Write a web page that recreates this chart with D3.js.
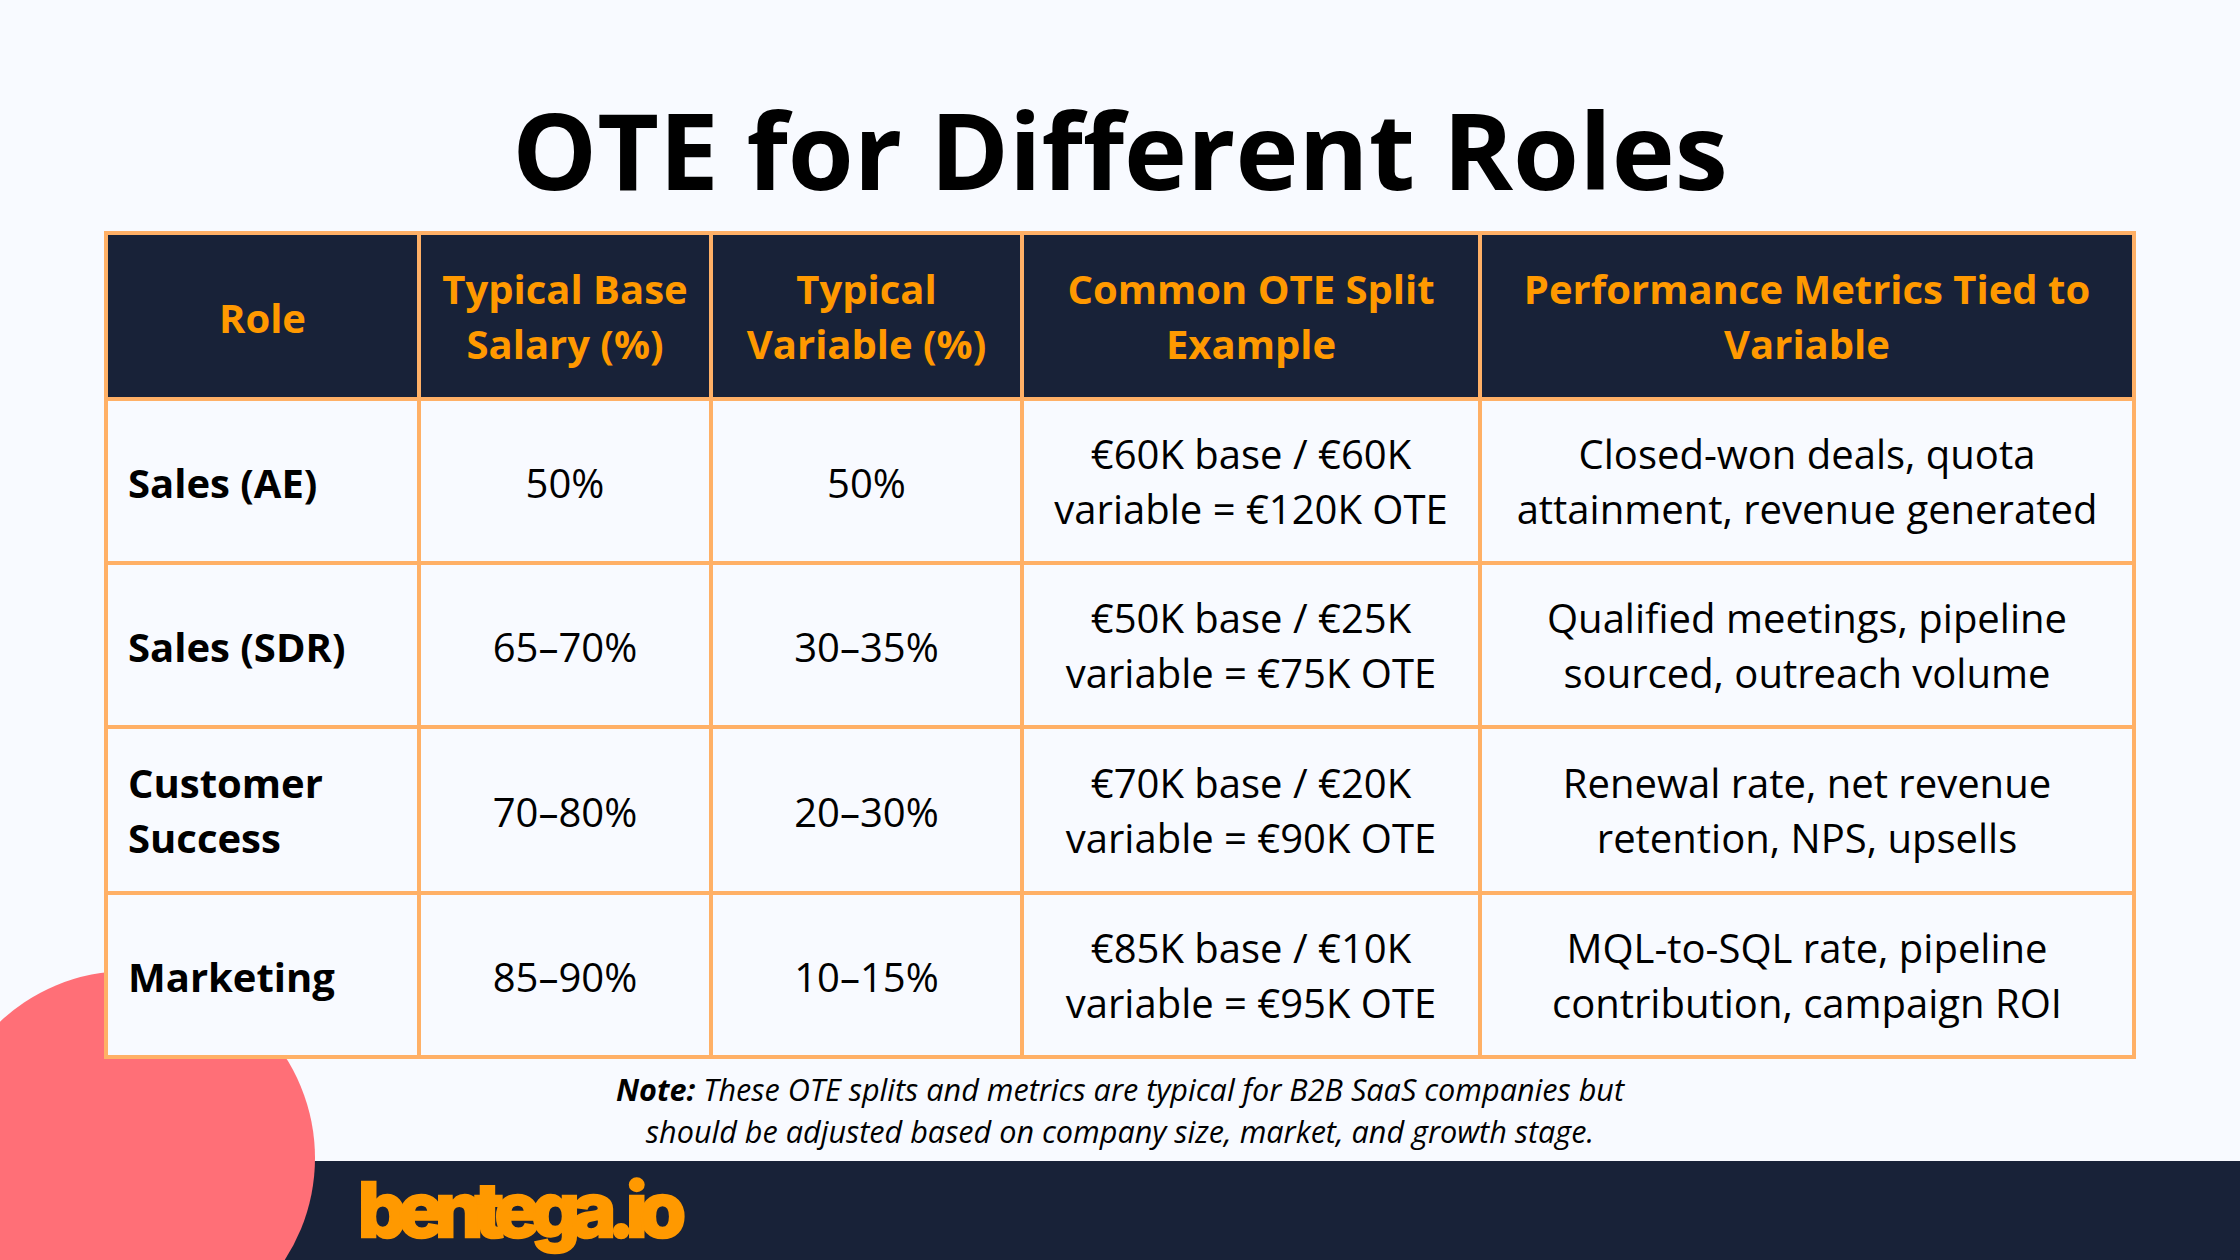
<!DOCTYPE html>
<html>
<head>
<meta charset="utf-8">
<script src="https://cdn.jsdelivr.net/npm/d3@7"></script>
<style>
  html, body { margin: 0; padding: 0; background: #f8faff; }
  svg { display: block; }
  text { font-family: "Open Sans", sans-serif; }
</style>
</head>
<body>
<svg id="chart" width="2240" height="1260"></svg>
<script>
const titleText = "OTE for Different Roles";
const columns = ["Role", "Typical Base\nSalary (%)", "Typical\nVariable (%)", "Common OTE Split\nExample", "Performance Metrics Tied to\nVariable"];
const roles = ["Sales (AE)", "Sales (SDR)", "Customer\nSuccess", "Marketing"];
const baseSalary = ["50%", "65–70%", "70–80%", "85–90%"];
const variablePay = ["50%", "30–35%", "20–30%", "10–15%"];
const splitExample = [
  "€60K base / €60K\nvariable = €120K OTE",
  "€50K base / €25K\nvariable = €75K OTE",
  "€70K base / €20K\nvariable = €90K OTE",
  "€85K base / €10K\nvariable = €95K OTE"
];
const metrics = [
  "Closed-won deals, quota\nattainment, revenue generated",
  "Qualified meetings, pipeline\nsourced, outreach volume",
  "Renewal rate, net revenue\nretention, NPS, upsells",
  "MQL-to-SQL rate, pipeline\ncontribution, campaign ROI"
];
const noteLead = "Note:";
const noteLines = ["These OTE splits and metrics are typical for B2B SaaS companies but", "should be adjusted based on company size, market, and growth stage."];
const logoText = "bentega.io";

var navy = "#182238", orange = "#ff9900", border = "#ffb066", coral = "#ff6f77", bg = "#f8faff";

var svg = d3.select("#chart");

// grid lines, in page pixels
var colEdges = [106, 419, 711, 1022, 1480, 2134];
var rowEdges = [233, 399, 563, 727, 893, 1057];
var rowKeys = ["header"].concat(roles);

var x = d3.scaleOrdinal().domain(columns).range(colEdges);
var y = d3.scaleOrdinal().domain(rowKeys).range(rowEdges);

function colWidth(c) { return colEdges[columns.indexOf(c) + 1] - x(c); }
function rowHeight(r) { return rowEdges[rowKeys.indexOf(r) + 1] - y(r); }

svg.append("rect").attr("width", 2240).attr("height", 1260).attr("fill", bg);

svg.append("rect")
  .attr("x", 0).attr("y", 1161)
  .attr("width", 2240).attr("height", 99)
  .attr("fill", navy);

svg.append("circle")
  .attr("cx", 128).attr("cy", 1158).attr("r", 187)
  .attr("fill", coral);

svg.append("text")
  .attr("x", 1120).attr("y", 189.5)
  .attr("text-anchor", "middle")
  .attr("font-size", 106.7).attr("font-weight", 700)
  .attr("fill", "#000")
  .text(titleText);

// cell backgrounds
svg.append("rect")
  .attr("x", colEdges[0]).attr("y", rowEdges[0])
  .attr("width", colEdges[5] - colEdges[0]).attr("height", rowEdges[5] - rowEdges[0])
  .attr("fill", bg);

svg.append("rect")
  .attr("x", colEdges[0]).attr("y", rowEdges[0])
  .attr("width", colEdges[5] - colEdges[0]).attr("height", rowEdges[1] - rowEdges[0])
  .attr("fill", navy);

// table rules
svg.append("g").selectAll("line")
  .data(colEdges)
  .join("line")
  .attr("x1", d => d).attr("x2", d => d)
  .attr("y1", rowEdges[0] - 2).attr("y2", rowEdges[5] + 2)
  .attr("stroke", border).attr("stroke-width", 4);

svg.append("g").selectAll("line")
  .data(rowEdges)
  .join("line")
  .attr("x1", colEdges[0] - 2).attr("x2", colEdges[5] + 2)
  .attr("y1", d => d).attr("y2", d => d)
  .attr("stroke", border).attr("stroke-width", 4);

var lineHeight = 55.5;

function drawCell(g, value, cx, cy, anchor, weight, color) {
  var lines = value.split("\n");
  // single lines sit about a pixel lower in the reference
  var offset = lines.length > 1 ? 15.3 : 16.5;
  g.append("text")
    .attr("text-anchor", anchor)
    .attr("font-size", 40).attr("font-weight", weight)
    .attr("fill", color)
    .selectAll("tspan")
    .data(lines)
    .join("tspan")
    .attr("x", cx)
    .attr("y", (d, i) => cy + (i - (lines.length - 1) / 2) * lineHeight + offset)
    .text(d => d);
}

var cells = svg.append("g");

columns.forEach(c => {
  drawCell(cells, c, x(c) + colWidth(c) / 2, y("header") + rowHeight("header") / 2, "middle", 700, orange);
});

var bodyCols = [baseSalary, variablePay, splitExample, metrics];

roles.forEach((r, i) => {
  var cy = y(r) + rowHeight(r) / 2;
  drawCell(cells, r, x(columns[0]) + 22, cy, "start", 700, "#000");
  bodyCols.forEach((vals, j) => {
    var c = columns[j + 1];
    drawCell(cells, vals[i], x(c) + colWidth(c) / 2, cy, "middle", 400, "#000");
  });
});

// note under the table
var note = svg.append("g")
  .attr("font-size", 30.6).attr("font-style", "italic").attr("fill", "#000");

var noteFirst = note.append("text")
  .attr("x", 1120).attr("y", 1101)
  .attr("text-anchor", "middle");
noteFirst.append("tspan").attr("font-weight", 700).text(noteLead);
noteFirst.append("tspan").text(" " + noteLines[0]);

note.append("text")
  .attr("x", 1120).attr("y", 1143)
  .attr("text-anchor", "middle")
  .text(noteLines[1]);

svg.append("text")
  .attr("x", 358).attr("y", 1237)
  .attr("font-size", 76).attr("font-weight", 800)
  .attr("fill", orange).attr("stroke", orange).attr("stroke-width", 2.5)
  .attr("textLength", 328).attr("lengthAdjust", "spacing")
  .style("font-family", "Inter, sans-serif")
  .text(logoText);
</script>
</body>
</html>
